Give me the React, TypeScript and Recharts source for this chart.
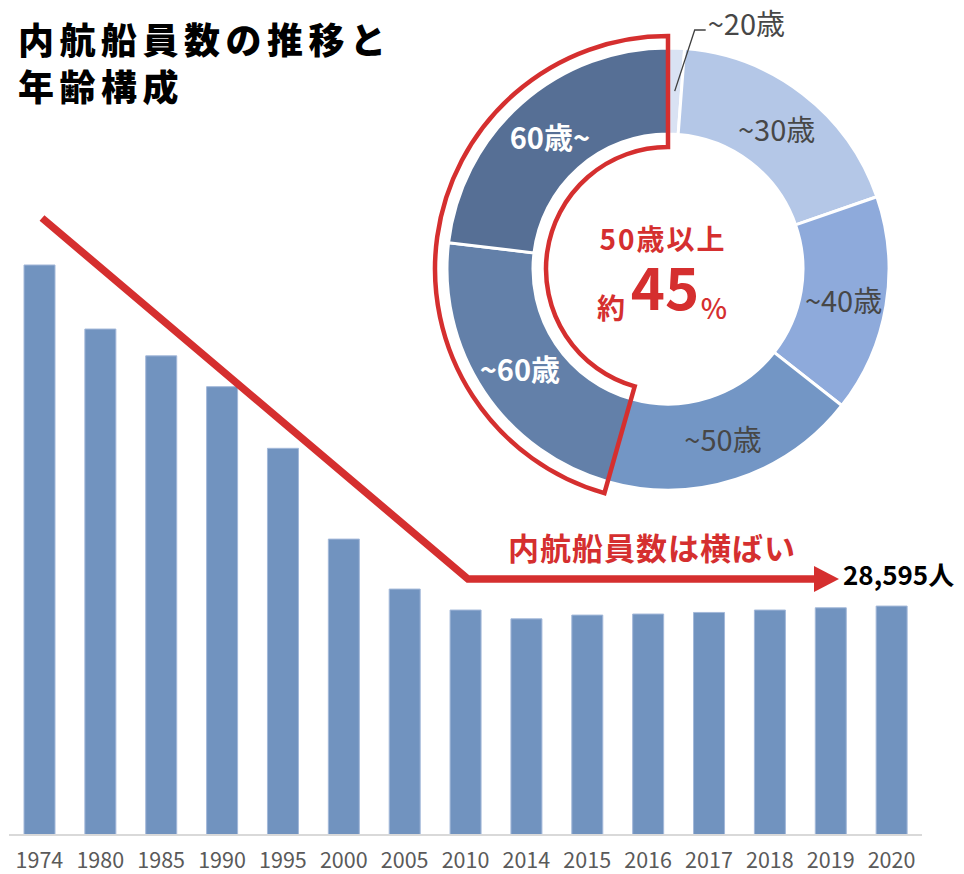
import React from "react";
import { BarChart, Bar, XAxis, YAxis, PieChart, Pie, Cell } from "recharts";

// ---- data ----
const years = ["1974", "1980", "1985", "1990", "1995", "2000", "2005", "2010", "2014", "2015", "2016", "2017", "2018", "2019", "2020"];
const crew = [71200, 63200, 59850, 56000, 48300, 36960, 30720, 28100, 27000, 27470, 27600, 27800, 28100, 28380, 28595];

const ageLabels = ["~20歳", "~30歳", "~40歳", "~50歳", "~60歳", "60歳~"];
const ageShares = [1.2, 18.5, 15.9, 18.8, 22.5, 23.1];
const ageColors = ["#d9e2f3", "#b4c7e7", "#8eaadb", "#7396c5", "#6380a9", "#566f95"];

const titleLines = ["内航船員数の推移と", "年齢構成"];
const centerTitle = "50歳以上";
const centerPrefix = "約";
const centerValue = "45";
const centerUnit = "%";
const trendLabel = "内航船員数は横ばい";
const personUnit = "人";

// ---- derived tables ----
const barData = years.map((y, i) => ({ year: y, crew: crew[i] }));
const ageData = ageLabels.map((n, i) => ({ name: n, value: ageShares[i] }));
const sum = (a: number[]) => a.reduce((s, v) => s + v, 0);
const outlineData = [
  { name: "50歳未満", value: sum(ageShares.slice(0, 4)) },
  { name: centerTitle, value: sum(ageShares.slice(4)) },
];
const latestLabel = crew[crew.length - 1].toLocaleString("en-US") + personUnit;

const FONT = "'Noto Sans CJK JP', 'Noto Sans', sans-serif";
const RED = "#d52f2f";
const CX = 663;
const CY = 264;
const RAD = Math.PI / 180;

const renderAgeLabel = (p: any) => {
  const { cx, cy, midAngle, innerRadius, outerRadius, index } = p;
  const r = (innerRadius + outerRadius) / 2;
  const x = cx + r * Math.cos(-midAngle * RAD);
  const y = cy + r * Math.sin(-midAngle * RAD);
  if (index === 0) {
    const ex = x + 20;
    const ey = cy - outerRadius - 18;
    return (
      <g key="lbl0">
        <polyline points={`${x},${y} ${ex},${ey} ${ex + 11},${ey}`} fill="none" stroke="#404040" strokeWidth={1.3} />
        <text x={ex + 13} y={ey - 8} dominantBaseline="central" fill="#474747" fontSize={29} fontFamily={FONT}>
          {ageLabels[0]}
        </text>
      </g>
    );
  }
  const dark = index >= 4;
  return (
    <text
      key={"lbl" + index}
      x={x}
      y={y}
      textAnchor="middle"
      dominantBaseline="central"
      fill={dark ? "#ffffff" : "#474747"}
      fontWeight={dark ? 700 : 400}
      fontSize={29}
      fontFamily={FONT}
    >
      {ageLabels[index]}
    </text>
  );
};

export default function App() {
  return (
    <div style={{ position: "absolute", left: 0, top: 0, width: 964, height: 874, background: "#fff", overflow: "hidden" }}>
      <div style={{ position: "absolute", left: 0, top: 0 }}>
        <BarChart width={964} height={874} data={barData} margin={{ top: 0, right: 42, bottom: 0, left: 9 }} barSize={31}>
          <XAxis
            dataKey="year"
            height={39}
            interval={0}
            tickLine={false}
            axisLine={{ stroke: "#d9d9d9", strokeWidth: 2 }}
            tickMargin={12}
            tick={{ fill: "#5a5a5a", fontSize: 21.5, fontFamily: FONT }}
          />
          <YAxis hide domain={[0, 104300]} />
          <Bar dataKey="crew" fill="#7193bf" stroke="#a3b8d9" strokeWidth={1} isAnimationActive={false} />
        </BarChart>
      </div>
      <div style={{ position: "absolute", left: 0, top: 0 }}>
        <PieChart width={964} height={874}>
          <Pie
            data={ageData}
            dataKey="value"
            nameKey="name"
            cx={CX}
            cy={CY}
            innerRadius={135}
            outerRadius={221}
            startAngle={90}
            endAngle={-270}
            stroke="#ffffff"
            strokeWidth={3}
            label={renderAgeLabel}
            labelLine={false}
            isAnimationActive={false}
          >
            {ageData.map((d, i) => (
              <Cell key={d.name} fill={ageColors[i]} />
            ))}
          </Pie>
          <Pie
            data={outlineData}
            dataKey="value"
            nameKey="name"
            cx={CX}
            cy={CY}
            innerRadius={122}
            outerRadius={233}
            startAngle={90}
            endAngle={-270}
            isAnimationActive={false}
          >
            <Cell fill="none" stroke="none" />
            <Cell fill="none" stroke={RED} strokeWidth={4.5} />
          </Pie>
        </PieChart>
      </div>
      <svg width={964} height={874} style={{ position: "absolute", left: 0, top: 0, pointerEvents: "none" }}>
        {titleLines.map((t, i) => (
          <text key={t} x={18} y={54 + i * 47} fontSize={36} fontWeight={900} letterSpacing={5.5} fill="#000" fontFamily={FONT}>
            {t}
          </text>
        ))}
        <text x={CX} y={238} textAnchor="middle" dominantBaseline="central" fontSize={28} fontWeight={700} letterSpacing={2} fill={RED} fontFamily={FONT}>
          {centerTitle}
        </text>
        <text x={CX - 52} y={319} textAnchor="middle" fontSize={28} fontWeight={700} fill={RED} fontFamily={FONT}>
          {centerPrefix}
        </text>
        <text x={CX + 2} y={310} textAnchor="middle" fontSize={58} fontWeight={700} fill={RED} fontFamily={FONT}>
          {centerValue}
        </text>
        <text x={CX + 51} y={319} textAnchor="middle" fontSize={28} fontWeight={500} fill={RED} fontFamily={FONT}>
          {centerUnit}
        </text>
        <polyline points="42,218 468,579 818,579" fill="none" stroke={RED} strokeWidth={7.5} strokeLinejoin="miter" />
        <polygon points="814,566 839,579 814,592" fill={RED} />
        <text x={508} y={560} fontSize={31} fontWeight={700} letterSpacing={1} fill={RED} fontFamily={FONT}>
          {trendLabel}
        </text>
        <text x={843} y={585} fontSize={26} fontWeight={700} fill="#000" fontFamily={FONT}>
          {latestLabel}
        </text>
      </svg>
    </div>
  );
}
